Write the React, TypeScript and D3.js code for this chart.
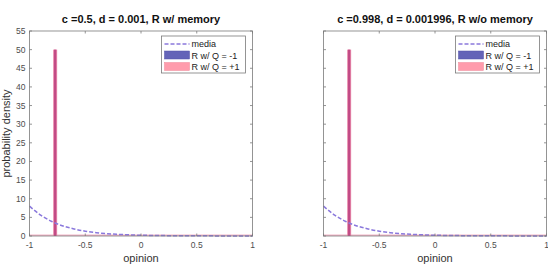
import React, { useEffect, useRef } from "react";
import * as d3 from "d3";

const titles = ["c =0.5, d = 0.001, R w/ memory", "c =0.998, d = 0.001996, R w/o memory"];
const yTicks = [0, 5, 10, 15, 20, 25, 30, 35, 40, 45, 50, 55];
const xTicks = [-1, -0.5, 0, 0.5, 1];
const mediaX = [-1, -0.9, -0.8, -0.7, -0.6, -0.5, -0.4, -0.3, -0.2, -0.1, 0, 0.1, 0.2, 0.3, 0.4, 0.5, 0.6, 0.7, 0.8, 0.9, 1];
const mediaY = [8, 5.6, 3.9, 2.7, 1.9, 1.3, 0.9, 0.62, 0.44, 0.3, 0.2, 0.15, 0.11, 0.08, 0.06, 0.05, 0.04, 0.03, 0.025, 0.02, 0.02];
const spikeX = [-0.77, -0.77];
const spikeY = [50, 50];
const legendLabels = ["media", "R w/ Q = -1", "R w/ Q = +1"];

const panels = [
  { left: 29.5, showY: true },
  { left: 323.5, showY: false },
];

export default function App() {
  const ref = useRef<SVGSVGElement>(null);

  useEffect(() => {
    const svg = d3.select(ref.current);
    svg.selectAll("*").remove();
    const w = 223, top = 31, h = 205;
    const font = "Liberation Sans, Arial, sans-serif";

    panels.forEach((p, i) => {
      const g = svg.append("g").attr("transform", `translate(${p.left},${top})`);
      const x = d3.scaleLinear().domain([-1, 1]).range([0, w]);
      const y = d3.scaleLinear().domain([0, 55]).range([h, 0]);

      // pink baseline histogram
      g.append("rect").attr("x", 0).attr("y", y(0) - 1.5).attr("width", w).attr("height", 1.5)
        .attr("fill", "#f4b6c8");

      // spike
      const sx = spikeX[i], sy = spikeY[i];
      g.append("rect").attr("x", x(sx) - 2).attr("y", y(sy)).attr("width", 4).attr("height", y(0) - y(sy))
        .attr("fill", "#e88aab");
      g.append("rect").attr("x", x(sx) - 1.1).attr("y", y(sy)).attr("width", 2.2).attr("height", y(0) - y(sy))
        .attr("fill", "#c24a85");

      // media line
      const line = d3.line<number>().x((_, k) => x(mediaX[k])).y(d => y(d)).curve(d3.curveMonotoneX);
      g.append("path").attr("d", line(mediaY)).attr("fill", "none")
        .attr("stroke", "#8a78dc").attr("stroke-width", 1.5).attr("stroke-dasharray", "4,2");

      // box
      g.append("rect").attr("x", 0).attr("y", 0).attr("width", w).attr("height", h)
        .attr("fill", "none").attr("stroke", "#7a7a7a").attr("stroke-width", 0.8);

      // ticks inside
      yTicks.forEach(t => {
        g.append("line").attr("x1", 0).attr("x2", 2.5).attr("y1", y(t)).attr("y2", y(t)).attr("stroke", "#7a7a7a").attr("stroke-width", 0.8);
        g.append("line").attr("x1", w).attr("x2", w - 2.5).attr("y1", y(t)).attr("y2", y(t)).attr("stroke", "#7a7a7a").attr("stroke-width", 0.8);
        if (p.showY) {
          g.append("text").attr("x", -4).attr("y", y(t)).attr("dy", "0.35em").attr("text-anchor", "end")
            .attr("font-family", font).attr("font-size", 8.5).attr("fill", "#4d4d4d").text(t);
        }
      });
      xTicks.forEach(t => {
        g.append("line").attr("x1", x(t)).attr("x2", x(t)).attr("y1", h).attr("y2", h - 2.5).attr("stroke", "#7a7a7a").attr("stroke-width", 0.8);
        g.append("line").attr("x1", x(t)).attr("x2", x(t)).attr("y1", 0).attr("y2", 2.5).attr("stroke", "#7a7a7a").attr("stroke-width", 0.8);
        g.append("text").attr("x", x(t)).attr("y", h + 12).attr("text-anchor", "middle")
          .attr("font-family", font).attr("font-size", 8.5).attr("fill", "#4d4d4d").text(t);
      });

      g.append("text").attr("x", w / 2).attr("y", h + 26).attr("text-anchor", "middle")
        .attr("font-family", font).attr("font-size", 11).attr("fill", "#333").text("opinion");
      if (p.showY) {
        g.append("text").attr("transform", `translate(-20,${h / 2}) rotate(-90)`).attr("text-anchor", "middle")
          .attr("font-family", font).attr("font-size", 11).attr("fill", "#333").text("probability density");
      }
      g.append("text").attr("x", w / 2).attr("y", -8).attr("text-anchor", "middle")
        .attr("font-family", font).attr("font-size", 11).attr("font-weight", "bold").attr("fill", "#111").text(titles[i]);

      // legend
      const lg = g.append("g").attr("transform", `translate(${w - 91},5)`);
      lg.append("rect").attr("x", 0).attr("y", 0).attr("width", 84).attr("height", 37)
        .attr("fill", "white").attr("stroke", "#7a7a7a").attr("stroke-width", 0.8);
      lg.append("line").attr("x1", 3).attr("x2", 28).attr("y1", 8).attr("y2", 8)
        .attr("stroke", "#8a78dc").attr("stroke-width", 1.5).attr("stroke-dasharray", "4,2");
      lg.append("rect").attr("x", 3).attr("y", 15).attr("width", 25).attr("height", 8).attr("fill", "#6464b8").attr("stroke", "#5050a8").attr("stroke-width", 0.5);
      lg.append("rect").attr("x", 3).attr("y", 26.5).attr("width", 25).attr("height", 8).attr("fill", "#ff9cac").attr("stroke", "#f08898").attr("stroke-width", 0.5);
      legendLabels.forEach((l, k) => {
        lg.append("text").attr("x", 30).attr("y", 8 + k * 11.5).attr("dy", "0.35em")
          .attr("font-family", font).attr("font-size", 9).attr("fill", "#222").text(l);
      });
    });
  }, []);

  return (
    <svg ref={ref} width={548} height={275} style={{ position: "absolute", left: 0, top: 0, background: "white" }} />
  );
}
